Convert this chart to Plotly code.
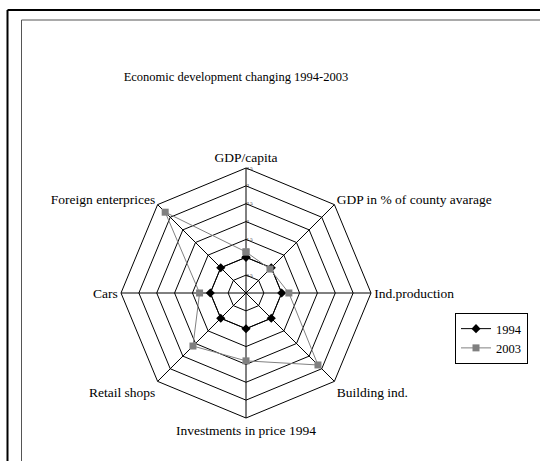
import plotly.graph_objects as go

categories = ["GDP/capita", "GDP in % of county avarage", "Ind.production", "Building ind.",
              "Investments in price 1994", "Retail shops", "Cars", "Foreign enterprices"]
values_1994 = [1.0, 1.0, 1.0, 1.0, 1.0, 1.0, 1.0, 1.0]
values_2003 = [1.15, 0.95, 1.2, 2.85, 1.9, 2.1, 1.3, 3.2]
radial_ticks = [0.5, 1.0, 1.5, 2.0, 2.5, 3.0, 3.5]

W, H = 540, 461
cx, cy, R = 246, 293, 125

fig = go.Figure()
fig.add_trace(go.Scatterpolar(
    r=values_1994 + values_1994[:1], theta=categories + categories[:1], name="1994",
    mode="lines+markers", line=dict(color="black", width=1),
    marker=dict(symbol="diamond", size=7, color="black")))
fig.add_trace(go.Scatterpolar(
    r=values_2003 + values_2003[:1], theta=categories + categories[:1], name="2003",
    mode="lines+markers", line=dict(color="#808080", width=1),
    marker=dict(symbol="square", size=7, color="#808080")))

fig.update_layout(
    width=W, height=H,
    margin=dict(l=0, r=0, t=0, b=0),
    paper_bgcolor="white",
    font=dict(family="Liberation Serif", color="black", size=13.5),
    title=dict(text="Economic development changing 1994-2003", x=236 / W, xanchor="center",
               y=1 - 77 / H, yanchor="middle", font=dict(size=12.5)),
    polar=dict(
        domain=dict(x=[(cx - R) / W, (cx + R) / W], y=[(H - cy - R) / H, (H - cy + R) / H]),
        bgcolor="white",
        gridshape="linear",
        angularaxis=dict(rotation=90, direction="clockwise", showline=True, linecolor="black",
                         linewidth=1, gridcolor="black", gridwidth=1, ticks="",
                         tickfont=dict(size=13.5)),
        radialaxis=dict(range=[0, 3.5], tickvals=radial_ticks, angle=90, showline=False,
                        gridcolor="black", gridwidth=1, ticks="", tickangle=90,
                        tickfont=dict(size=5)),
    ),
    legend=dict(x=455 / W, y=1 - 313 / H, xanchor="left", yanchor="top",
                bordercolor="black", borderwidth=1, bgcolor="white",
                font=dict(size=12.5), itemwidth=30),
    shapes=[
        dict(type="line", xref="paper", yref="paper", x0=7.5 / W, x1=1.05, y0=1 - 10 / H, y1=1 - 10 / H,
             line=dict(color="black", width=2)),
        dict(type="line", xref="paper", yref="paper", x0=7.5 / W, x1=7.5 / W, y0=1 - 10 / H, y1=-0.05,
             line=dict(color="black", width=2)),
        dict(type="line", xref="paper", yref="paper", x0=21.5 / W, x1=1.05, y0=1 - 20 / H, y1=1 - 20 / H,
             line=dict(color="#555555", width=1)),
        dict(type="line", xref="paper", yref="paper", x0=21.5 / W, x1=21.5 / W, y0=1 - 20 / H, y1=-0.05,
             line=dict(color="#555555", width=1)),
    ],
)

fig.write_html("out.html", config={"displayModeBar": False},
               post_script="document.body.style.margin='0px';")
